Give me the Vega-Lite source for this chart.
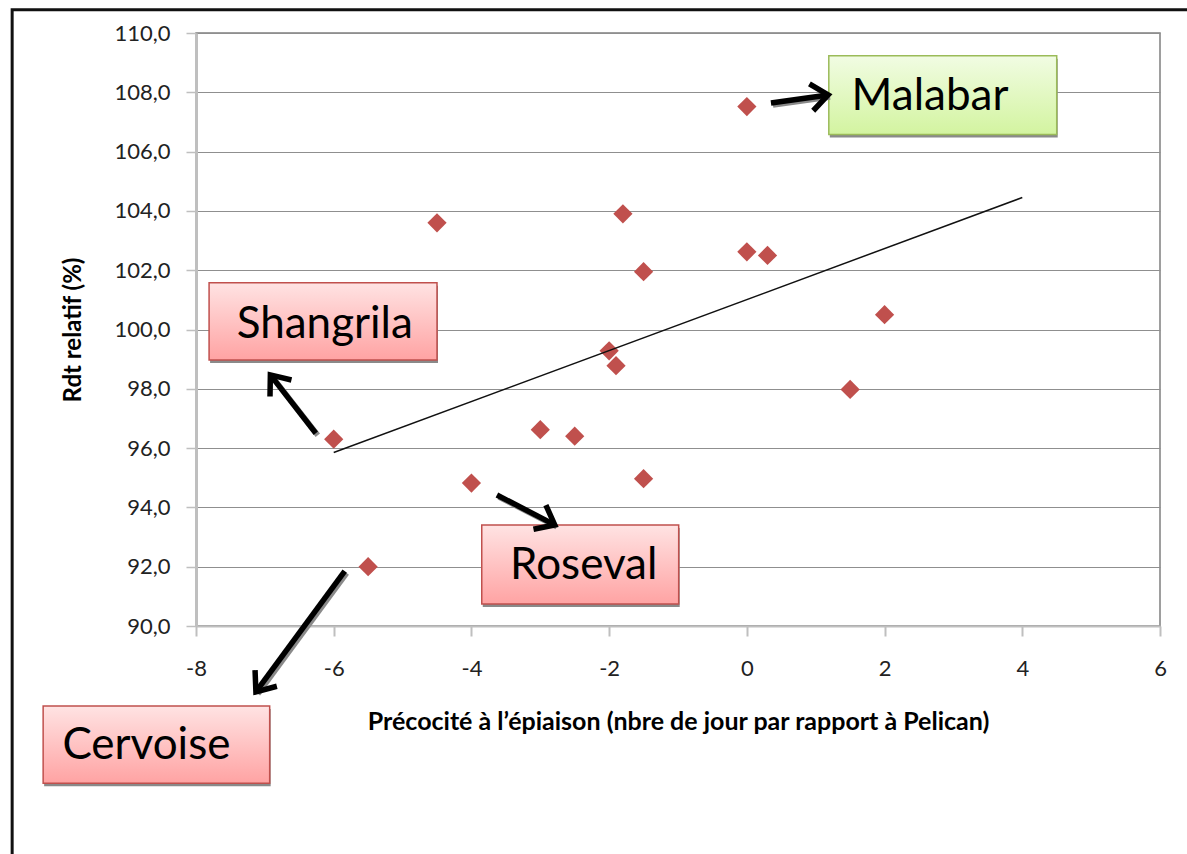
{
  "$schema": "https://vega.github.io/schema/vega-lite/v6.json",
  "width": 964,
  "height": 593,
  "autosize": {"type": "none"},
  "padding": {"left": 196, "top": 33, "right": 27, "bottom": 228},
  "background": "white",
  "config": {
    "view": {"stroke": "#7F7F7F", "strokeWidth": 1.5},
    "font": "Lato"
  },
  "datasets": {
    "points": [
      {"x": -4.5, "y": 103.6}, {"x": -1.8, "y": 103.9}, {"x": -1.5, "y": 101.95},
      {"x": 0, "y": 102.62}, {"x": 0.3, "y": 102.5}, {"x": 2, "y": 100.5},
      {"x": -2, "y": 99.28}, {"x": -1.9, "y": 98.78}, {"x": 1.5, "y": 97.98},
      {"x": -6, "y": 96.3}, {"x": -3, "y": 96.62}, {"x": -2.5, "y": 96.4},
      {"x": -4, "y": 94.82}, {"x": -1.5, "y": 94.97}, {"x": -5.5, "y": 92.0},
      {"x": 0, "y": 107.52}
    ],
    "trend": [{"x": -6, "y": 95.85}, {"x": 4, "y": 104.45}],
    "frame": [{"x1": -10.67, "x2": 12, "y1": 110.78, "y2": 60}],
    "boxes": [
      {"name": "Malabar", "kind": "green", "x1": 1.19, "x2": 4.5, "y1": 109.23, "y2": 106.58, "tx": 2.66, "ty": 107.84},
      {"name": "Shangrila", "kind": "red", "x1": -7.81, "x2": -4.5, "y1": 101.58, "y2": 98.97, "tx": -6.13, "ty": 100.15},
      {"name": "Roseval", "kind": "red", "x1": -3.85, "x2": -0.99, "y1": 93.41, "y2": 90.74, "tx": -2.37, "ty": 92.02},
      {"name": "Cervoise", "kind": "red", "x1": -10.22, "x2": -6.93, "y1": 87.3, "y2": 84.7, "tx": -8.72, "ty": 85.95}
    ],
    "arrows": [
      {"name": "Malabar", "x1": 0.35, "y1": 107.64, "x2": 1.18, "y2": 107.91, "angle": 82},
      {"name": "Shangrila", "x1": -6.26, "y1": 96.5, "x2": -6.92, "y2": 98.47, "angle": -37.7},
      {"name": "Roseval", "x1": -3.63, "y1": 94.42, "x2": -2.79, "y2": 93.41, "angle": 117.2},
      {"name": "Cervoise", "x1": -5.84, "y1": 91.85, "x2": -7.13, "y2": 87.78, "angle": 216.4}
    ]
  },
  "layer": [
    {
      "data": {"name": "frame"},
      "mark": {"type": "rect", "fill": "transparent", "stroke": "#111111", "strokeWidth": 3, "clip": false},
      "encoding": {
        "x": {"field": "x1", "type": "quantitative", "scale": {"domain": [-8, 6], "nice": false, "zero": false}},
        "x2": {"field": "x2"},
        "y": {"field": "y1", "type": "quantitative", "scale": {"domain": [90, 110], "nice": false, "zero": false}},
        "y2": {"field": "y2"}
      }
    },
    {
      "data": {"name": "points"},
      "mark": {"type": "point", "shape": "diamond", "filled": true, "color": "#C0504D", "size": 370, "opacity": 1},
      "encoding": {
        "x": {
          "field": "x", "type": "quantitative",
          "scale": {"domain": [-8, 6], "nice": false, "zero": false},
          "axis": {
            "values": [-8, -6, -4, -2, 0, 2, 4, 6],
            "labelExpr": "'' + datum.value",
            "labelFlush": false,
            "grid": false,
            "domainColor": "#BFBFBF", "domainWidth": 2,
            "tickColor": "#BFBFBF", "tickSize": 10, "tickWidth": 2,
            "labelFont": "Lato", "labelFontSize": 22, "labelColor": "#222222", "labelPadding": 22,
            "title": "Précocité à l’épiaison (nbre de jour par rapport à Pelican)",
            "titleFont": "Lato", "titleFontSize": 25, "titleFontWeight": "bold", "titleColor": "#000000",
            "titlePadding": 30
          }
        },
        "y": {
          "field": "y", "type": "quantitative",
          "scale": {"domain": [90, 110], "nice": false, "zero": false},
          "axis": {
            "values": [90, 92, 94, 96, 98, 100, 102, 104, 106, 108, 110],
            "labelExpr": "replace(format(datum.value, '.1f'), '.', ',')",
            "grid": true, "gridColor": "#8F8F8F", "gridWidth": 1,
            "domainColor": "#BFBFBF", "domainWidth": 3,
            "tickColor": "#BFBFBF", "tickSize": 10, "tickWidth": 1.5,
            "labelFont": "Lato", "labelFontSize": 22, "labelColor": "#222222", "labelPadding": 16,
            "title": "Rdt relatif (%)",
            "titleFont": "Lato", "titleFontSize": 24, "titleFontWeight": "bold", "titleColor": "#000000",
            "titlePadding": 28
          }
        }
      }
    },
    {
      "data": {"name": "trend"},
      "mark": {"type": "line", "color": "#111111", "strokeWidth": 1.5},
      "encoding": {
        "x": {"field": "x", "type": "quantitative"},
        "y": {"field": "y", "type": "quantitative"}
      }
    },
    {
      "data": {"name": "boxes"},
      "mark": {"type": "rect", "color": "#8A8A8A", "yOffset": 3, "y2Offset": 3, "xOffset": 1, "x2Offset": 1, "clip": false},
      "encoding": {
        "x": {"field": "x1", "type": "quantitative"},
        "x2": {"field": "x2"},
        "y": {"field": "y1", "type": "quantitative"},
        "y2": {"field": "y2"}
      }
    },
    {
      "data": {"name": "boxes"},
      "transform": [{"filter": "datum.kind === 'red'"}],
      "mark": {
        "type": "rect", "clip": false, "stroke": "#C0504D", "strokeWidth": 1.5,
        "fill": {"gradient": "linear", "x1": 0, "y1": 0, "x2": 0, "y2": 1,
          "stops": [{"offset": 0, "color": "#FFE3E3"}, {"offset": 1, "color": "#FFA3A3"}]}
      },
      "encoding": {
        "x": {"field": "x1", "type": "quantitative"},
        "x2": {"field": "x2"},
        "y": {"field": "y1", "type": "quantitative"},
        "y2": {"field": "y2"}
      }
    },
    {
      "data": {"name": "boxes"},
      "transform": [{"filter": "datum.kind === 'green'"}],
      "mark": {
        "type": "rect", "clip": false, "stroke": "#9BBB59", "strokeWidth": 1.5,
        "fill": {"gradient": "linear", "x1": 0, "y1": 0, "x2": 0, "y2": 1,
          "stops": [{"offset": 0, "color": "#F1FCE3"}, {"offset": 1, "color": "#D3F4A0"}]}
      },
      "encoding": {
        "x": {"field": "x1", "type": "quantitative"},
        "x2": {"field": "x2"},
        "y": {"field": "y1", "type": "quantitative"},
        "y2": {"field": "y2"}
      }
    },
    {
      "data": {"name": "boxes"},
      "mark": {"type": "text", "font": "Lato", "fontSize": 44, "color": "#000000", "align": "center", "baseline": "middle", "clip": false},
      "encoding": {
        "x": {"field": "tx", "type": "quantitative"},
        "y": {"field": "ty", "type": "quantitative"},
        "text": {"field": "name"}
      }
    },
    {
      "data": {"name": "arrows"},
      "mark": {"type": "rule", "color": "#8A8A8A", "strokeWidth": 5.5, "xOffset": 2, "yOffset": 2, "x2Offset": 2, "y2Offset": 2, "clip": false},
      "encoding": {
        "x": {"field": "x1", "type": "quantitative"},
        "y": {"field": "y1", "type": "quantitative"},
        "x2": {"field": "x2"},
        "y2": {"field": "y2"}
      }
    },
    {
      "data": {"name": "arrows"},
      "mark": {"type": "rule", "color": "#000000", "strokeWidth": 5.5, "clip": false},
      "encoding": {
        "x": {"field": "x1", "type": "quantitative"},
        "y": {"field": "y1", "type": "quantitative"},
        "x2": {"field": "x2"},
        "y2": {"field": "y2"}
      }
    },
    {
      "data": {"name": "arrows"},
      "mark": {"type": "point", "shape": "M-0.8,1L0,0L0.8,1", "filled": false, "stroke": "#000000", "strokeWidth": 5.5, "strokeJoin": "miter", "size": 1150, "opacity": 1, "clip": false},
      "encoding": {
        "x": {"field": "x2", "type": "quantitative"},
        "y": {"field": "y2", "type": "quantitative"},
        "angle": {"field": "angle", "type": "quantitative", "scale": null}
      }
    }
  ]
}
